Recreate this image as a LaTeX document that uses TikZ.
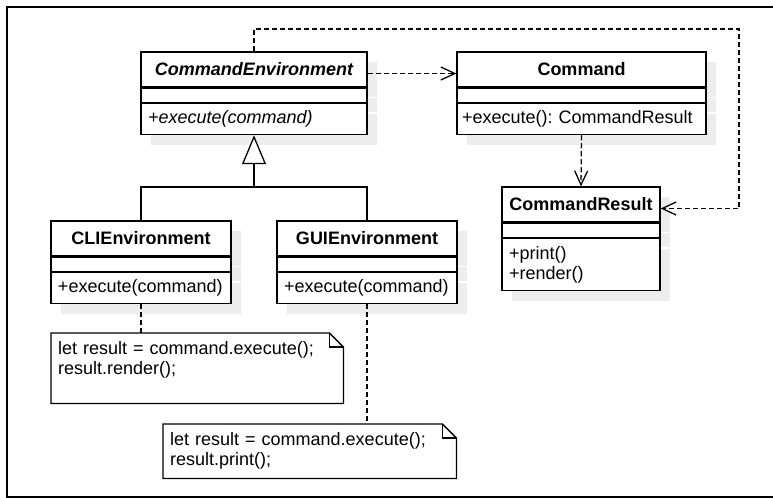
\documentclass[tikz,border=0pt]{standalone}
\usepackage{fontspec}
\setmainfont{Liberation Sans}
\usetikzlibrary{positioning}
\usetikzlibrary{arrows.meta}
\usetikzlibrary{shadows}
\AtBeginDocument{\fontsize{18bp}{20bp}\selectfont}
\tikzset{x=1bp, y=-1bp, % pixel like units, y going down
umlshadow/.style={drop shadow={shadow xshift=10bp, shadow yshift=-10bp, fill=black!7, opacity=1}},
classhead/.style={ % Name part of a class
draw, fill=white, line width=1.3bp, umlshadow,
inner sep=0pt, minimum width=#1, minimum height=35bp,
font=\bfseries},
classattr/.style={ % Empty attribute part
draw, fill=white, line width=1.3bp, umlshadow,
inner sep=0pt, minimum width=#1, minimum height=14bp},
classops/.style={ % Operations part
draw, fill=white, line width=1.3bp, umlshadow,
inner xsep=7bp, inner ysep=0pt, text width=#1,
minimum height=31bp, align=left},
notebox/.style={inner xsep=7bp, inner ysep=0pt, align=left, anchor=north west},
dep/.style={ % Dashed dependency with open head
draw, line width=1.3bp, dash pattern=on 5bp off 3bp,
-{Straight Barb[length=14bp, width=13bp]}},
notelink/.style={draw, line width=1.3bp, dash pattern=on 5bp off 3bp},
inherit/.style={draw, line width=1.3bp,
-{Triangle[open, length=29bp, width=24bp, fill=white]}}}

\begin{document}
\begin{tikzpicture}
	\useasboundingbox (0,0) rectangle (773,498);
	\draw[line width=2.5bp] (790,7) -- (7,7) -- (7,497) -- (790,497);
	% classes
	\node[classhead=226bp, font=\bfseries\itshape] (env) at (254,69.5) {CommandEnvironment};
	\node[classattr=226bp, below=0pt of env] (env-attr) {};
	\node[classops=212bp, below=0pt of env-attr, font=\itshape] (env-ops) {+execute(command)};
	\node[classhead=249bp] (cmd) at (581.5,69.5) {Command};
	\node[classattr=249bp, below=0pt of cmd] (cmd-attr) {};
	\node[classops=239bp, inner xsep=5bp, below=0pt of cmd-attr] (cmd-ops) {+execute():~CommandResult};
	\node[classhead=158bp] (res) at (581,204.5) {CommandResult};
	\node[classattr=158bp, below=0pt of res] (res-attr) {};
	\node[classops=144bp, below=0pt of res-attr, minimum height=52bp] (res-ops) {+print()\\+render()};
	\node[classhead=180bp] (cli) at (141,238.5) {CLIEnvironment};
	\node[classattr=180bp, below=0pt of cli] (cli-attr) {};
	\node[classops=166bp, below=0pt of cli-attr] (cli-ops) {+execute(command)};
	\node[classhead=180bp] (gui) at (367,238.5) {GUIEnvironment};
	\node[classattr=180bp, below=0pt of gui] (gui-attr) {};
	\node[classops=166bp, below=0pt of gui-attr] (gui-ops) {+execute(command)};
	% notes
	\node[notebox, text width=278bp, minimum height=70bp] (note1) at (51,333)
		{let result = command.execute();\\result.render();\\\mbox{}};
	\node[notebox, text width=279bp, minimum height=54bp] (note2) at (163,424)
		{let result = command.execute();\\result.print();};
	\draw[line width=1.3bp] (note1.north west) -- ([xshift=-14bp]note1.north east) -- ([yshift=-14bp]note1.north east) -- (note1.south east) -- (note1.south west) -- cycle;
	\draw[line width=1.3bp] ([xshift=-14bp]note1.north east) |- ([yshift=-14bp]note1.north east);
	\draw[line width=1.3bp] (note2.north west) -- ([xshift=-14bp]note2.north east) -- ([yshift=-14bp]note2.north east) -- (note2.south east) -- (note2.south west) -- cycle;
	\draw[line width=1.3bp] ([xshift=-14bp]note2.north east) |- ([yshift=-14bp]note2.north east);
	% connectors
	\coordinate (split) at (254,187);
	\coordinate (bend) at (739,29);
	\draw[line width=1.3bp] (cli.north) |- (split) -| (gui.north);
	\draw[inherit] (split) -- (env-ops.south);
	\draw[dep] ([yshift=-4bp]env.east) -- ([yshift=-4bp]cmd.west);
	\draw[dep] (cmd-ops.south) -- (res.north);
	\draw[dep] (env.north) |- (bend) |- ([yshift=-4bp]res.east);
	\draw[notelink] (cli-ops.south) -- (cli-ops.south |- note1.north);
	\draw[notelink] (gui-ops.south) -- (gui-ops.south |- note2.north);
\end{tikzpicture}
\end{document}
